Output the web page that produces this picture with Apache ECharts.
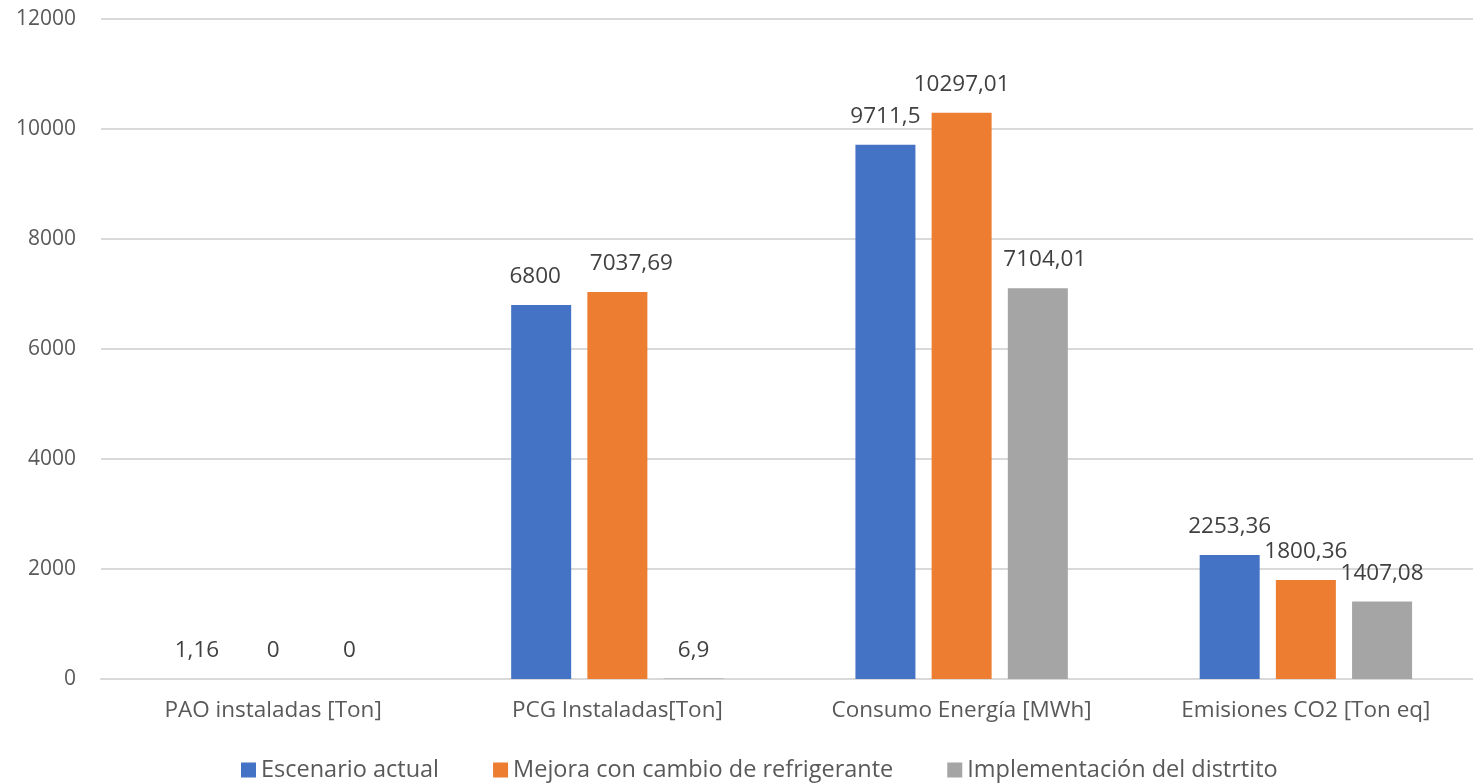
<!DOCTYPE html>
<html>
<head>
<meta charset="utf-8">
<script src="https://cdn.jsdelivr.net/npm/echarts@6/dist/echarts.min.js"></script>
<style>
  html, body { margin: 0; padding: 0; background: #fff; overflow: hidden; }
  #chart { width: 1478px; height: 783px; }
</style>
</head>
<body>
<div id="chart"></div>
<script>
// Categories and scenario values
const categories = ['PAO instaladas [Ton]', 'PCG Instaladas[Ton]', 'Consumo Energía [MWh]', 'Emisiones CO2 [Ton eq]'];
const seriesNames = ['Escenario actual', 'Mejora con cambio de refrigerante', 'Implementación del distrtito'];
const escenarioActual = [1.16, 6800, 9711.5, 2253.36];
const mejoraRefrigerante = [0, 7037.69, 10297.01, 1800.36];
const implementacionDistrito = [0, 6.9, 7104.01, 1407.08];
const colors = ['#4472C4', '#ED7D31', '#A5A5A5'];
// small horizontal nudges so crowded labels don't overlap
const labelShift = [[0, -6, 0, 0], [0, 14, 0, 0], [0, 0, 7, 0]];

const seriesData = [escenarioActual, mejoraRefrigerante, implementacionDistrito];
const fmt = v => String(v).replace('.', ',');

const chart = echarts.init(document.getElementById('chart'));
chart.setOption({
  animation: false,
  textStyle: { fontFamily: 'Open Sans, Noto Sans, sans-serif' },
  grid: { left: 101, right: 0, top: 19, bottom: 104, containLabel: false },
  legend: {
    bottom: -4,
    left: 236,
    icon: 'rect',
    itemWidth: 15,
    itemHeight: 15,
    itemGap: 54,
    textStyle: { fontSize: 23.5, color: '#595959', fontFamily: 'Liberation Sans Narrow, Open Sans, sans-serif' },
    data: seriesNames
  },
  xAxis: {
    type: 'category',
    data: categories,
    axisLine: { lineStyle: { color: '#D9D9D9', width: 2 } },
    axisTick: { show: false },
    axisLabel: { fontSize: 22.5, color: '#595959', margin: 20 }
  },
  yAxis: {
    type: 'value',
    min: 0,
    max: 12000,
    interval: 2000,
    axisLine: { show: false },
    axisTick: { show: false },
    axisLabel: { fontSize: 21, color: '#595959', margin: 25, formatter: v => String(v) },
    splitLine: { lineStyle: { color: '#D9D9D9', width: 2 } }
  },
  series: seriesNames.map((name, i) => ({
    name,
    type: 'bar',
    barWidth: 60,
    barGap: '27%',
    itemStyle: { color: colors[i] },
    label: {
      show: true,
      position: 'top',
      distance: 17,
      fontSize: 22.5,
      color: '#404040',
      formatter: p => fmt(p.value)
    },
    data: seriesData[i].map((v, j) => ({
      value: v,
      label: { offset: [labelShift[i][j], 0] }
    }))
  }))
});
</script>
</body>
</html>
